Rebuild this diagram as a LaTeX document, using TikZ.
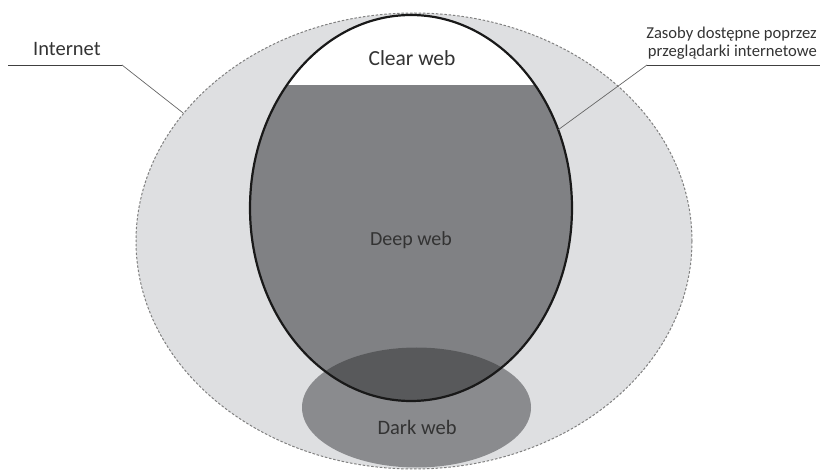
\documentclass[tikz,border=0pt]{standalone}
\usepackage{fontspec}
\setmainfont{Carlito}
\usetikzlibrary{shapes.geometric}
\definecolor{outerfill}{HTML}{DEDFE1}
\definecolor{outerline}{HTML}{808080}
\definecolor{deepfill}{HTML}{808184}
\definecolor{darkfill}{HTML}{8A8B8E}
\definecolor{overlapfill}{HTML}{58595B}
\definecolor{txt}{HTML}{333333}
\begin{document}
\begin{tikzpicture}[x=1pt,y=-1pt,
  lbl/.style={inner sep=0pt, text=txt},
  leader/.style={draw=black!75, line width=0.8pt},
  leaderdiag/.style={draw=black!60, line width=0.7pt},
  region/.style={ellipse, inner sep=0pt}]
\useasboundingbox (0,0) rectangle (820,470);
% outer Internet ellipse
\node[region, fill=outerfill, draw=outerline, dashed, dash pattern=on 2.5pt off 1.8pt, line width=1pt,
  minimum width=556pt, minimum height=456pt] (internet) at (414,241) {};
% inner ellipse (browser-accessible)
\node[region, fill=white, minimum width=322pt, minimum height=386pt] (inner) at (411,208) {};
\begin{scope}
  \clip (411,208) ellipse [x radius=161pt, y radius=193pt];
  \fill[deepfill] (240,85) rectangle (590,410);
\end{scope}
% dark web ellipse
\node[region, fill=darkfill, minimum width=229pt, minimum height=120pt] (dark) at (416.5,407.5) {};
\begin{scope}
  \clip (411,208) ellipse [x radius=161pt, y radius=193pt];
  \fill[overlapfill] (416.5,407.5) ellipse [x radius=114.5pt, y radius=60pt];
\end{scope}
\draw[line width=2.2pt, draw=black!90] (411,208) ellipse [x radius=161pt, y radius=193pt];
% labels
\node[lbl, font=\fontsize{21.5}{24}\selectfont] (clear) at (412,58) {Clear web};
\node[lbl, font=\fontsize{20}{24}\selectfont] (deep) at (411,240) {Deep web};
\node[lbl, font=\fontsize{20.5}{24}\selectfont] (darkl) at (417,427) {Dark web};
\node[lbl, anchor=base west, font=\fontsize{20.5}{24}\selectfont] (inetl) at (33,56) {Internet};
\node[lbl, anchor=south east, align=right, font=\fontsize{16.6}{18.5}\selectfont] (zas) at (817,60)
  {Zasoby dostępne poprzez\\przeglądarki internetowe};
% leaders
\coordinate (l1) at (8,65);
\coordinate (l2) at (122,65);
\coordinate (r1) at (820,65);
\coordinate (r2) at (647,65);
\draw[leader] (l1) -- (l2);
\draw[leaderdiag] (l2) -- (internet.151);
\draw[leader] (r1) -- (r2);
\draw[leaderdiag] (r2) -- (inner.28);
\end{tikzpicture}
\end{document}
